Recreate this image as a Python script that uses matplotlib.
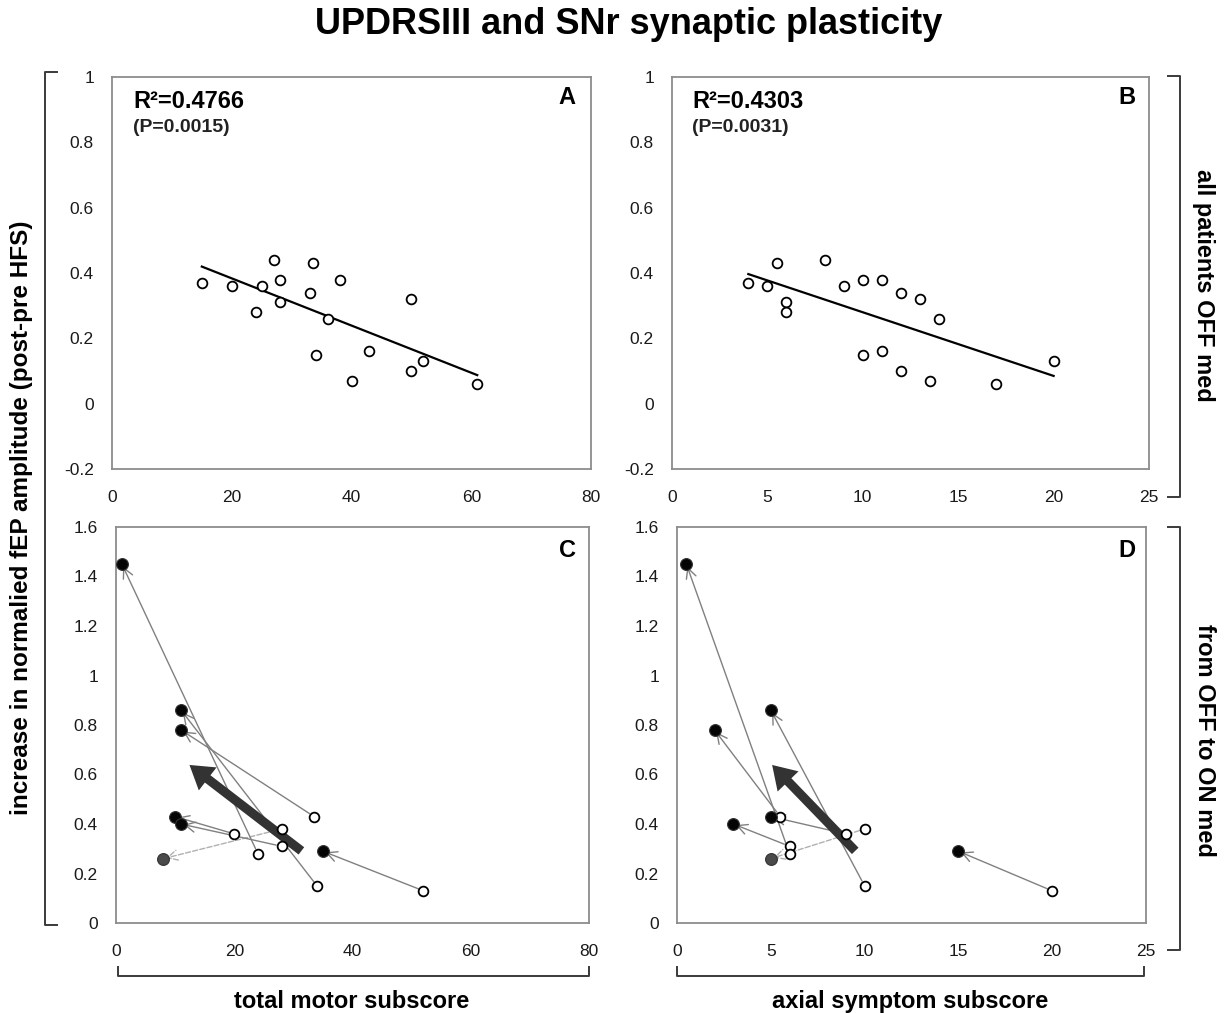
import numpy as np
import matplotlib
matplotlib.use("Agg")
import matplotlib.pyplot as plt
from matplotlib.lines import Line2D

plt.rcParams['font.family'] = ['Liberation Sans', 'DejaVu Sans']

# ---------------- data ----------------
# Panels A/B: all patients OFF med
motor_off_all = [15, 20, 25, 24, 27, 28, 28, 33.5, 33, 38, 36, 34, 43, 40, 50, 50, 52, 61]
amp_off_all_A = [0.37, 0.36, 0.36, 0.28, 0.44, 0.38, 0.31, 0.43, 0.34, 0.38, 0.26, 0.15, 0.16, 0.07, 0.32, 0.10, 0.13, 0.06]
axial_off_all = [4, 5, 5.5, 6, 6, 8, 9, 10, 11, 12, 13, 14, 10, 11, 12, 13.5, 17, 20]
amp_off_all_B = [0.37, 0.36, 0.43, 0.31, 0.28, 0.44, 0.36, 0.38, 0.38, 0.34, 0.32, 0.26, 0.15, 0.16, 0.10, 0.07, 0.06, 0.13]

# Panels C/D: from OFF to ON med (paired)
motor_off = [33.5, 20, 28, 28, 24, 34, 52]
motor_on = [11, 10, 8, 11, 1, 11, 35]
axial_off = [5.5, 9, 10, 6, 6, 10, 20]
axial_on = [2, 5, 5, 3, 0.5, 5, 15]
amp_off = [0.43, 0.36, 0.38, 0.31, 0.28, 0.15, 0.13]
amp_on = [0.78, 0.43, 0.26, 0.40, 1.45, 0.86, 0.29]
dashed_pair = [False, False, True, False, False, False, False]

r2_text = ["R\u00b2=0.4766", "R\u00b2=0.4303"]
p_text = ["(P=0.0015)", "(P=0.0031)"]
panel_letters = ["A", "B", "C", "D"]

title = "UPDRSIII and SNr synaptic plasticity"
ylabel = "increase in normalied fEP amplitude (post-pre HFS)"
row_labels = ["all patients OFF med", "from OFF to ON med"]
col_labels = ["total motor subscore", "axial symptom subscore"]

# ---------------- layout ----------------
W, H = 1225, 1013
fig = plt.figure(figsize=(W / 100, H / 100), dpi=100)


def ax_px(l, t, r, b):
    return fig.add_axes([l / W, 1 - b / H, (r - l) / W, (b - t) / H])


def fx(x):
    return x / W


def fy(y):
    return 1 - y / H


axA = ax_px(112, 77, 591, 469)
axB = ax_px(672, 77, 1149, 469)
axC = ax_px(116, 527, 589, 923)
axD = ax_px(677, 527, 1146, 923)

frame_col = '#8c8c8c'
tick_col = '#1a1a1a'


def style(ax, xlim, xticks, ylim, yticks, yfmt):
    ax.set_xlim(*xlim)
    ax.set_ylim(*ylim)
    ax.set_xticks(xticks)
    ax.set_xticklabels([str(v) for v in xticks])
    ax.set_yticks(yticks)
    ax.set_yticklabels([yfmt(v) for v in yticks])
    for s in ax.spines.values():
        s.set_color(frame_col)
        s.set_linewidth(1.3)
    ax.tick_params(length=0, labelsize=12.5, colors=tick_col)
    ax.tick_params(axis='x', pad=15)
    ax.tick_params(axis='y', pad=13)


def yf(v):
    v = round(v, 1)
    if v == int(v):
        return str(int(v))
    return f"{v:g}"


style(axA, (0, 80), [0, 20, 40, 60, 80], (-0.2, 1.0), [-0.2, 0, 0.2, 0.4, 0.6, 0.8, 1.0], yf)
style(axB, (0, 25), [0, 5, 10, 15, 20, 25], (-0.2, 1.0), [-0.2, 0, 0.2, 0.4, 0.6, 0.8, 1.0], yf)
style(axC, (0, 80), [0, 20, 40, 60, 80], (0, 1.6), [0, 0.2, 0.4, 0.6, 0.8, 1.0, 1.2, 1.4, 1.6], yf)
style(axD, (0, 25), [0, 5, 10, 15, 20, 25], (0, 1.6), [0, 0.2, 0.4, 0.6, 0.8, 1.0, 1.2, 1.4, 1.6], yf)

# ---------------- panels A/B ----------------
for ax, xs, ys in [(axA, motor_off_all, amp_off_all_A), (axB, axial_off_all, amp_off_all_B)]:
    xs = np.array(xs, float)
    ys = np.array(ys, float)
    k, c = np.polyfit(xs, ys, 1)
    xl = np.array([xs.min(), xs.max()])
    ax.plot(xl, k * xl + c, color='black', lw=1.6, zorder=2)
    ax.plot(xs, ys, 'o', ms=7, mfc='white', mec='black', mew=1.3, zorder=3)

# ---------------- panels C/D ----------------
for ax, xo, xn in [(axC, motor_off, motor_on), (axD, axial_off, axial_on)]:
    for x0, y0, x1, y1, d in zip(xo, amp_off, xn, amp_on, dashed_pair):
        col = '#b0b0b0' if d else '#808080'
        ax.annotate('', xy=(x1, y1), xytext=(x0, y0),
                    arrowprops=dict(arrowstyle='->,head_length=0.55,head_width=0.28',
                                    color=col, lw=1.0, linestyle='--' if d else '-',
                                    shrinkA=4, shrinkB=2, mutation_scale=13),
                    zorder=2)
    ax.plot(xo, amp_off, 'o', ms=7, mfc='white', mec='black', mew=1.3, zorder=4)
    for x1, y1, d in zip(xn, amp_on, dashed_pair):
        fc = '#4a4a4a' if d else '#050505'
        ax.plot([x1], [y1], 'o', ms=8.5, mfc=fc, mec='#333333', mew=0.8, zorder=5)
    # mean shift arrow
    mx0, my0 = np.mean(xo), np.mean(amp_off)
    mx1, my1 = np.mean(xn), np.mean(amp_on)
    ax.annotate('', xy=(mx1, my1), xytext=(mx0, my0),
                arrowprops=dict(arrowstyle='simple,head_length=0.75,head_width=0.95,tail_width=0.3',
                                color='#333333', lw=0, shrinkA=0, shrinkB=0, mutation_scale=22),
                zorder=3)

# ---------------- texts ----------------
fig.text(fx(629), fy(25), title, ha='center', va='center', fontsize=26, fontweight='bold')

for x, t in [(133, r2_text[0]), (692, r2_text[1])]:
    fig.text(fx(x), fy(101), t, ha='left', va='center', fontsize=17, fontweight='bold')
for x, t in [(133, p_text[0]), (692, p_text[1])]:
    fig.text(fx(x), fy(128), t, ha='left', va='center', fontsize=14, fontweight='bold', color='#222222')

for (x, y), L in zip([(567, 98), (1127, 98), (567, 550), (1127, 550)], panel_letters):
    fig.text(fx(x), fy(y), L, ha='center', va='center', fontsize=17, fontweight='bold')

fig.text(fx(22), fy(518), ylabel, rotation=90, ha='center', va='center', fontsize=17.5, fontweight='bold')
fig.text(fx(1203), fy(285), row_labels[0], rotation=-90, ha='center', va='center', fontsize=17, fontweight='bold')
fig.text(fx(1205), fy(740), row_labels[1], rotation=-90, ha='center', va='center', fontsize=17, fontweight='bold')
fig.text(fx(352), fy(1001), col_labels[0], ha='center', va='center', fontsize=17, fontweight='bold')
fig.text(fx(910), fy(1001), col_labels[1], ha='center', va='center', fontsize=17, fontweight='bold')

# ---------------- brackets ----------------
bcol = '#3a3a3a'


def pline(xs, ys):
    fig.add_artist(Line2D([fx(v) for v in xs], [fy(v) for v in ys], color=bcol, lw=1.4))


pline([57, 45, 45, 57], [72, 72, 925, 925])
pline([1168, 1180, 1180, 1168], [76, 76, 497, 497])
pline([1168, 1180, 1180, 1168], [527, 527, 950, 950])
pline([118, 118, 589, 589], [967, 976, 976, 967])
pline([677, 677, 1144, 1144], [967, 976, 976, 967])

fig.savefig('out.png', dpi=100, facecolor='white')
